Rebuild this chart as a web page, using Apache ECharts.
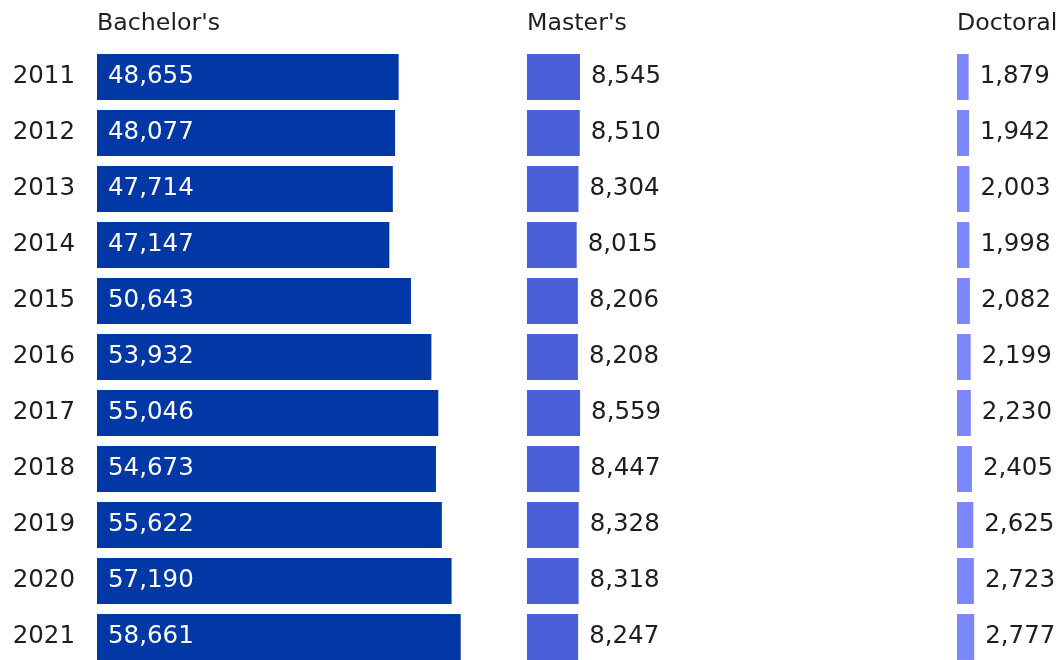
<!DOCTYPE html>
<html>
<head>
<meta charset="utf-8">
<script src="https://cdn.jsdelivr.net/npm/echarts@6/dist/echarts.min.js"></script>
<style>
  html, body { margin: 0; padding: 0; background: #fff; }
  #chart { width: 1061px; height: 660px; }
</style>
</head>
<body>
<div id="chart"></div>
<script>
// data
var years = ['2011', '2012', '2013', '2014', '2015', '2016', '2017', '2018', '2019', '2020', '2021'];
var bachelors = [48655, 48077, 47714, 47147, 50643, 53932, 55046, 54673, 55622, 57190, 58661];
var masters = [8545, 8510, 8304, 8015, 8206, 8208, 8559, 8447, 8328, 8318, 8247];
var doctoral = [1879, 1942, 2003, 1998, 2082, 2199, 2230, 2405, 2625, 2723, 2777];
var panels = ["Bachelor's", "Master's", 'Doctoral'];

var font = 'DejaVu Sans';
var fmt = function (p) { return p.value.toLocaleString('en-US'); };
// same px-per-unit scale in every panel (~0.0062 px / degree)
var lefts = [97, 527, 957];
var widths = [372, 372, 93];
var maxes = [60000, 60000, 15000];
var colors = ['#0138a5', '#4a5fd7', '#7b86f8'];

var chart = echarts.init(document.getElementById('chart'));
var grids = [], xAxes = [], yAxes = [], titles = [], series = [];
var allData = [bachelors, masters, doctoral];

lefts.forEach(function (l, i) {
    grids.push({left: l, top: 49, width: widths[i], height: 616, outerBoundsMode: 'none'});
    xAxes.push({
        type: 'value', gridIndex: i, min: 0, max: maxes[i], show: false
    });
    yAxes.push({
        type: 'category', gridIndex: i, data: years, inverse: true,
        axisLine: {show: false},
        axisTick: {show: false},
        splitLine: {show: false},
        axisLabel: {
            show: i === 0, margin: 22, color: '#1e1e1e',
            fontFamily: font, fontSize: 24.5
        }
    });
    titles.push({
        text: panels[i], left: l - 5, top: 7,
        textStyle: {fontFamily: font, fontWeight: 'normal', fontSize: 23.7, color: '#1e1e1e'}
    });
    series.push({
        name: panels[i],
        type: 'bar',
        xAxisIndex: i,
        yAxisIndex: i,
        data: allData[i],
        barCategoryGap: '18%',
        itemStyle: {color: colors[i]},
        label: {
            show: true,
            position: i === 0 ? 'insideLeft' : 'right',
            distance: 11,
            formatter: fmt,
            color: i === 0 ? '#fff' : '#1e1e1e',
            fontFamily: font,
            fontSize: 24.5
        },
        silent: true
    });
});

chart.setOption({
    animation: false,
    title: titles,
    grid: grids,
    xAxis: xAxes,
    yAxis: yAxes,
    series: series
});
</script>
</body>
</html>
